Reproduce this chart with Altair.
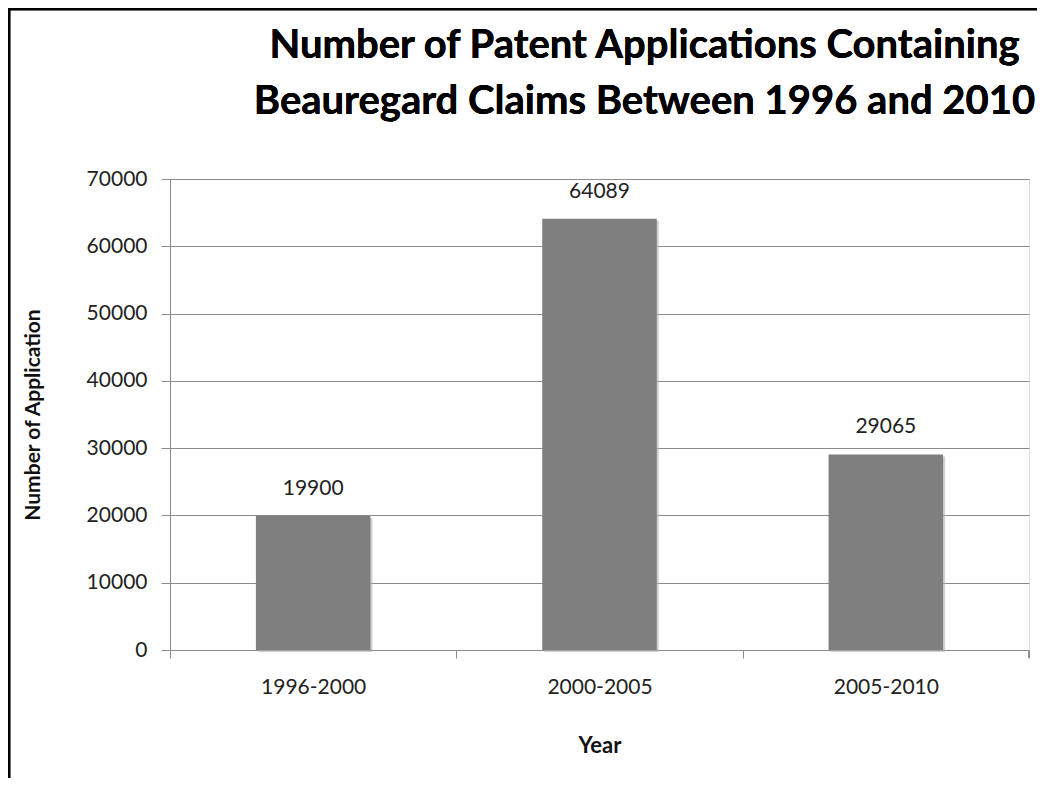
import altair as alt
import pandas as pd

categories = ["1996-2000", "2000-2005", "2005-2010"]
values = [19900, 64089, 29065]
y_ticks = [0, 10000, 20000, 30000, 40000, 50000, 60000, 70000]
title_lines = ["Number of Patent Applications Containing",
               "Beauregard Claims Between 1996 and 2010"]

df = pd.DataFrame({"period": categories, "count": values})

FONT = "Lato"
W, H = 859, 471
PL, PT, PR, PB = 162, 171, 8, 128

x_enc = alt.X("period:N", sort=categories,
              scale=alt.Scale(paddingInner=0, paddingOuter=0),
              axis=alt.Axis(title="Year", tickBand="extent", grid=False,
                            labelAngle=0, labelFont=FONT, labelFontSize=21,
                            labelColor="#222222", labelPadding=18,
                            tickColor="#8c8c8c", tickSize=8, domainColor="#8c8c8c",
                            titleFont=FONT, titleFontSize=22, titleFontWeight="bold",
                            titleColor="#111111", titleY=95, titleBaseline="middle"))
y_enc = alt.Y("count:Q",
              scale=alt.Scale(domain=[0, 70000], nice=False),
              axis=alt.Axis(title="Number of Application", values=y_ticks, format="d",
                            grid=True, gridColor="#8c8c8c", gridWidth=1,
                            labelFont=FONT, labelFontSize=21, labelColor="#222222",
                            labelPadding=14, tickColor="#8c8c8c", tickSize=9,
                            domainColor="#8c8c8c",
                            titleFont=FONT, titleFontSize=21, titleFontWeight="bold",
                            titleColor="#111111", titleX=-137, titleY=H / 2,
                            titleBaseline="middle", titleAngle=-90))

base = alt.Chart(df).encode(x=x_enc, y=y_enc)
shadow = base.mark_bar(color="#b0b0b0", opacity=0.6, width=alt.RelativeBandSize(0.4),
                       xOffset=2, yOffset=2, y2Offset=2)
bars = base.mark_bar(color="#7f7f7f", width=alt.RelativeBandSize(0.4))
labels = base.mark_text(font=FONT, fontSize=21, color="#222222", baseline="middle",
                        dy=-27).encode(text=alt.Text("count:Q", format="d"))

title = alt.Chart(df).mark_text(font=FONT, fontSize=40, fontWeight="bold", color="#000000",
                                align="center", baseline="alphabetic", lineHeight=56).encode(
    x=alt.value(W / 2 + 45), y=alt.value(50 - PT), text=alt.value(title_lines))

right_tick = alt.Chart(df).mark_rule(color="#8c8c8c").encode(
    x=alt.value(W), y=alt.value(H), y2=alt.value(H + 8))
border_left = alt.Chart(df).mark_rule(color="#000000", strokeWidth=2.5).encode(
    x=alt.value(-PL + 1), y=alt.value(-PT), y2=alt.value(H + PB))
border_top = alt.Chart(df).mark_rule(color="#000000", strokeWidth=2.5).encode(
    x=alt.value(-PL), x2=alt.value(W + PR), y=alt.value(-PT + 1))

chart = alt.layer(shadow, bars, labels, title, right_tick, border_left, border_top).properties(
    width=W, height=H,
    autosize=alt.AutoSizeParams(type="none"),
    padding={"left": PL, "top": PT, "right": PR, "bottom": PB},
).configure_view(stroke=None).configure(background="white")

chart.save("out.html", embed_options={"renderer": "svg", "actions": False})
